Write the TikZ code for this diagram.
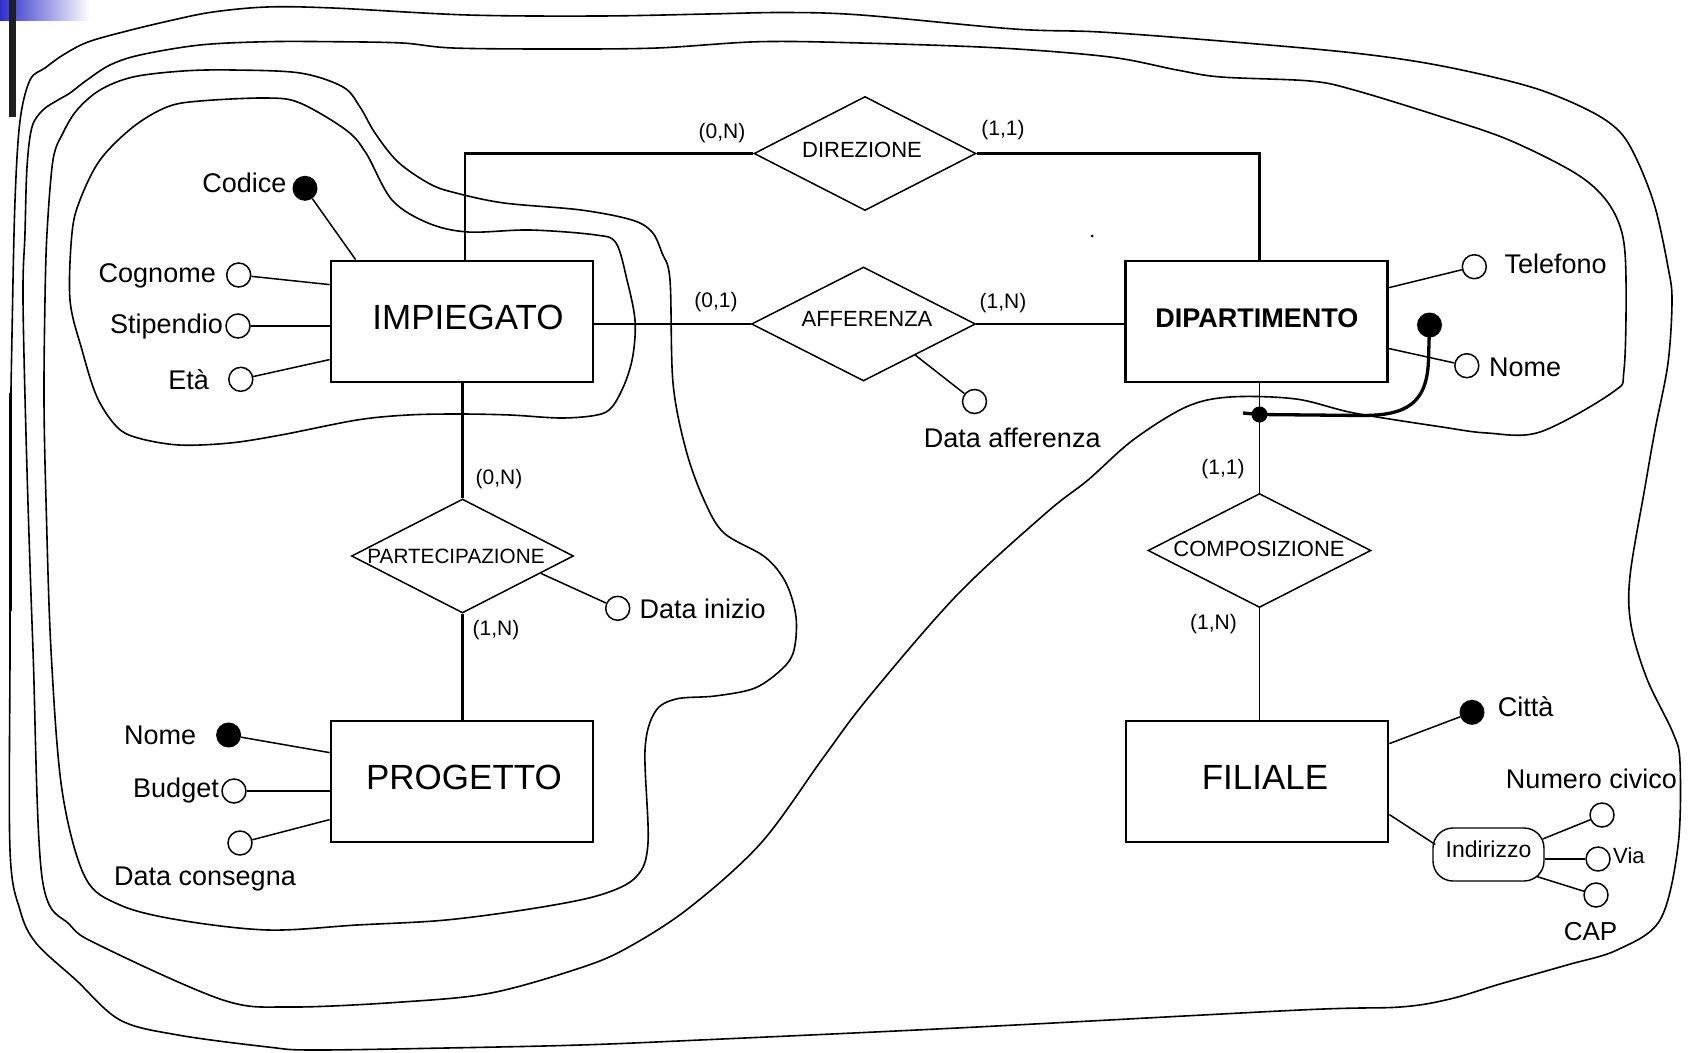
\documentclass[tikz,border=0pt]{standalone}
\usepackage{fontspec}
\setmainfont{Liberation Sans}
\usetikzlibrary{shapes.geometric,calc}
\definecolor{bandblue}{RGB}{48,48,200}
\begin{document}
\begin{tikzpicture}[x=1pt,y=-1pt,
  lasso/.style={line width=1.6pt,line join=round},
  entity/.style={draw,line width=2.8pt,minimum width=262pt,minimum height=121pt,inner sep=0pt,
    font=\fontsize{35}{35}\selectfont,text height=25pt,text depth=9pt},
  relation/.style={draw,diamond,line width=1.5pt,inner sep=0pt,minimum width=222pt,minimum height=114pt},
  reltext/.style={inner sep=0pt,font=\fontsize{22}{22}\selectfont,text height=15.8pt,text depth=0pt},
  cardtext/.style={inner sep=0pt,font=\fontsize{21}{21}\selectfont},
  attr/.style={draw,circle,line width=1.5pt,fill=white,minimum size=24pt,inner sep=0pt},
  keyattr/.style={circle,fill=black,minimum size=25pt,inner sep=0pt},
  attrtext/.style={inner sep=0pt,font=\fontsize{27}{27}\selectfont,text height=19.3pt,text depth=0pt},
  thinlink/.style={line width=1.5pt},
  midlink/.style={line width=2.1pt},
  thicklink/.style={line width=2.6pt}
]
\fill[white] (0,0) rectangle (1694,1052);
\useasboundingbox (0,0) rectangle (1694,1052);

% slide decoration in the corner
\shade[left color=bandblue,right color=white] (0,0) rectangle (90,20.7);
\fill[black!88] (9,0) rectangle (16,117);
\fill[black] (9,393) rectangle (12.3,611);

% outer lasso: the whole schema
\draw[lasso] plot[smooth cycle,tension=0.55] coordinates {
 (30,80) (45,68) (63,55) (88,42) (127,31) (173,20) (213,12) (267,7) (333,8) (468,15)
 (600,16) (708,14) (785,12.5) (861,15) (1014,29) (1100,32) (1221,41) (1354,53) (1442,66)
 (1531,87) (1588,110) (1619,131) (1637,160) (1655,207) (1668,267) (1672,300) (1668,363)
 (1655,430) (1645,487) (1630,576) (1631,625) (1647,679) (1673,733) (1680,763) (1678,846)
 (1660,920) (1617,950) (1567,965) (1500,984) (1450,999) (1400,1007) (1300,1010) (957,1028)
 (700,1040) (580,1045) (446,1048) (312,1050) (268,1047) (178,1035) (120,1020) (76,980)
 (36,943) (20,910) (10,850) (10,650) (10,470) (12,335) (15,201) (20,121)};

% second lasso: without FILIALE
\draw[lasso] plot[smooth cycle,tension=0.55] coordinates {
 (23,300) (25,233) (27,167) (32,127) (43,110) (58,100) (70,93) (87,80) (110,65) (140,55)
 (200,45) (267,41.7) (333,41.7) (402,43) (453,48) (557,49) (657,48) (759,41.7) (861,43)
 (1000,48) (1110,57) (1177,70) (1221,77) (1310,81) (1354,90) (1442,117) (1509,140)
 (1575,173) (1606,200) (1622,233) (1626,280) (1624,370) (1613,392) (1540,432) (1487,433)
 (1442,427) (1354,413) (1296,399) (1230,397) (1186,407) (1133,440) (1088,480) (1046,513)
 (957,595) (868,698) (823,758) (761,843) (689,908) (627,948) (580,968) (491,993) (402,1002)
 (290,1007) (223,1000) (103,947) (70,925) (42,877) (33,650) (27,470)};

% third lasso: IMPIEGATO, PARTECIPAZIONE, PROGETTO
\draw[lasso] plot[smooth cycle,tension=0.55] coordinates {
 (45,300) (47,233) (53,160) (63,133) (77,110) (100,90) (133,77) (183,71) (233,70) (300,73)
 (343,87) (360,107) (375,133) (398,162) (430,184) (456,193) (504,203) (581,210) (632,220)
 (652,232) (662,253) (670,280) (673,383) (686,450) (704,500) (724,533) (765,557) (786,583)
 (796,617) (794,650) (783,668) (755,688) (715,696) (676,699) (655,712) (645,750) (648,843)
 (636,877) (600,895) (536,908) (446,920) (357,925) (268,930) (179,920) (120,905) (85,877)
 (62,790) (51,650) (46,500) (44,400)};

% inner lasso: IMPIEGATO with its attributes
\draw[lasso] plot[smooth cycle,tension=0.55] coordinates {
 (70,300) (72,233) (80,200) (100,160) (133,127) (167,107) (200,101) (267,98) (300,103)
 (346,130) (366,153) (392,200) (428,223) (468,232) (530,230) (596,235) (616,243) (627,280)
 (635,320) (633,355) (625,383) (612,407) (597,415) (561,418) (510,415) (459,414) (408,415)
 (357,420) (281,435) (230,443) (179,445) (138,438) (117,427) (97,397) (82,350)};

% entities
\node[entity] (imp) at (462,321.5) {\hspace*{12pt}IMPIEGATO};
\node[entity,font=\bfseries\fontsize{27}{27}\selectfont,text height=19.3pt,text depth=7pt] (dip) at (1256.75,321.5) {DIPARTIMENTO};
\node[entity] (prog) at (462,781.5) {\hspace*{4pt}PROGETTO};
\node[entity] (fil) at (1257,781.5) {\hspace*{16pt}FILIALE};

% relationships
\node[relation] (dir) at (865,153.5) {};
\node[relation,minimum width=224pt] (aff) at (863.5,324) {};
\node[relation] (part) at (462.5,556) {};
\node[relation,minimum width=223pt] (comp) at (1259.5,550.5) {};
\node[reltext] (dirT) at (862,150) {DIREZIONE};
\node[reltext] (affT) at (867,319) {AFFERENZA};
\node[reltext,font=\fontsize{20.7}{21}\selectfont,text height=14.8pt] (partT) at (456,556.5) {PARTECIPAZIONE};
\node[reltext] (compT) at (1259,549) {COMPOSIZIONE};

% connectors
\draw[thicklink] ([xshift=3pt]imp.north) |- (dir.west);
\draw[thicklink] (dir.east) -| ([xshift=3pt]dip.north);
\draw[thinlink] (aff.west -| imp.east) -- (aff.west);
\draw[thinlink] (aff.east) -- (aff.east -| dip.west);
\draw[midlink] (part.north) -- (part.north |- imp.south);
\draw[midlink] (part.south) -- (part.south |- prog.north);
\draw[thinlink] (comp.north) -- (comp.north |- dip.south);
\draw[thinlink] (comp.south) -- (comp.south |- fil.north);

% cardinalities
\node[cardtext] (c1) at (722,133) {(0,N)};
\node[cardtext] (c2) at (1003,130) {(1,1)};
\node[cardtext] (c3) at (716,302) {(0,1)};
\node[cardtext] (c4) at (1003,303) {(1,N)};
\node[cardtext] (c5) at (499,479) {(0,N)};
\node[cardtext] (c6) at (496,630) {(1,N)};
\node[cardtext] (c7) at (1223,469) {(1,1)};
\node[cardtext] (c8) at (1213.5,624.5) {(1,N)};

% IMPIEGATO attributes
\node[keyattr] (codice) at (305,188.3) {};
\node[attr] (cognome) at (238.7,275) {};
\node[attr] (stipendio) at (238,326) {};
\node[attr] (eta) at (240.8,379.3) {};
\node[attrtext,anchor=east] (codiceT) at (286.7,182.5) {Codice};
\node[attrtext,anchor=east] (cognomeT) at (216,273) {Cognome};
\node[attrtext,anchor=east] (stipendioT) at (223,324) {Stipendio};
\node[attrtext,anchor=east] (etaT) at (209,379.5) {Età};
\draw[thinlink] (codice) -- ([xshift=26pt]imp.north west);
\draw[thinlink] (cognome) -- ([yshift=-25pt]imp.north west);
\draw[thicklink] (stipendio) -- (stipendio -| imp.west);
\draw[thinlink] (eta) -- ([yshift=-100pt]imp.north west);

% DIPARTIMENTO attributes
\node[attr] (telefono) at (1474.3,266.7) {};
\node[attr] (nomedip) at (1466.8,365.7) {};
\node[attrtext,anchor=west] (telefonoT) at (1504.4,263.5) {Telefono};
\node[attrtext,anchor=west] (nomedipT) at (1489,366.7) {Nome};
\draw[thinlink] ([yshift=-28pt]dip.north east) -- (telefono);
\draw[thinlink] ([yshift=-89pt]dip.north east) -- (nomedip);

% external identifier of DIPARTIMENTO
\node[keyattr] (keydip) at (1429.5,325) {};
\node[circle,fill=black,minimum size=16pt,inner sep=0pt] (keylink) at (1259.5,414.5) {};
\coordinate (keytick) at (1243,413);
\draw[line width=3.3pt] (keydip.center) -- (1428.5,360)
  .. controls (1427,404) and (1406,415.5) .. (1362,415.5) -- (keylink.center) -- (keytick);

% PROGETTO attributes
\node[keyattr] (nomeprog) at (228.6,735) {};
\node[attr] (budget) at (234,791) {};
\node[attr] (datacons) at (240,843) {};
\node[attrtext,anchor=east] (nomeprogT) at (196.4,734.5) {Nome};
\node[attrtext,anchor=east] (budgetT) at (219,788) {Budget};
\node[attrtext,anchor=west] (dataconsT) at (114,876) {Data consegna};
\draw[thinlink] (nomeprog) -- ([yshift=-33pt]prog.north west);
\draw[midlink] (budget) -- (budget -| prog.west);
\draw[thinlink] (datacons) -- ([yshift=-100pt]prog.north west);

% FILIALE attributes
\node[keyattr] (citta) at (1472,712.3) {};
\node[attrtext,anchor=west] (cittaT) at (1497.7,707) {Città};
\draw[thinlink] ([yshift=-24pt]fil.north east) -- (citta);
\node[draw,rectangle,rounded corners=20pt,line width=1.4pt,minimum width=111pt,minimum height=53pt,
  inner sep=0pt,font=\fontsize{23}{23}\selectfont,text height=16.5pt,text depth=10pt] (ind) at (1488.5,854.5) {Indirizzo};
\draw[thinlink] ([yshift=-95pt]fil.north east) -- ([xshift=3pt,yshift=10pt]ind.west);
\node[attr] (numciv) at (1602,815) {};
\node[attr] (via) at (1598,859) {};
\node[attr] (cap) at (1596,895) {};
\draw[thinlink] ([xshift=-2pt,yshift=15.5pt]ind.east) -- (numciv);
\draw[thicklink] (via) -- (via -| ind.east);
\draw[thinlink] ([xshift=-8pt,yshift=-22pt]ind.east) -- (cap);
\node[attrtext] (numcivT) at (1591.5,779) {Numero civico};
\node[attrtext,anchor=west,font=\fontsize{22}{22}\selectfont,text height=15.8pt] (viaT) at (1613,855.5) {Via};
\node[attrtext,font=\fontsize{26}{26}\selectfont,text height=18.6pt] (capT) at (1590.5,931) {CAP};

% PARTECIPAZIONE and AFFERENZA attributes
\node[attr] (datainizio) at (617.7,608.3) {};
\node[attrtext,anchor=west] (datainizioT) at (639.3,608.7) {Data inizio};
\draw[thinlink] ($(part.east)!0.3!(part.south)$) -- (datainizio);
\node[attr] (dataaff) at (974.5,401.5) {};
\node[attrtext,anchor=west] (dataaffT) at (923.7,438) {Data afferenza};
\draw[thinlink] ($(aff.east)!0.54!(aff.south)$) -- (dataaff);

% stray speck
\fill (1092,236) circle (1.5);
\end{tikzpicture}
\end{document}
